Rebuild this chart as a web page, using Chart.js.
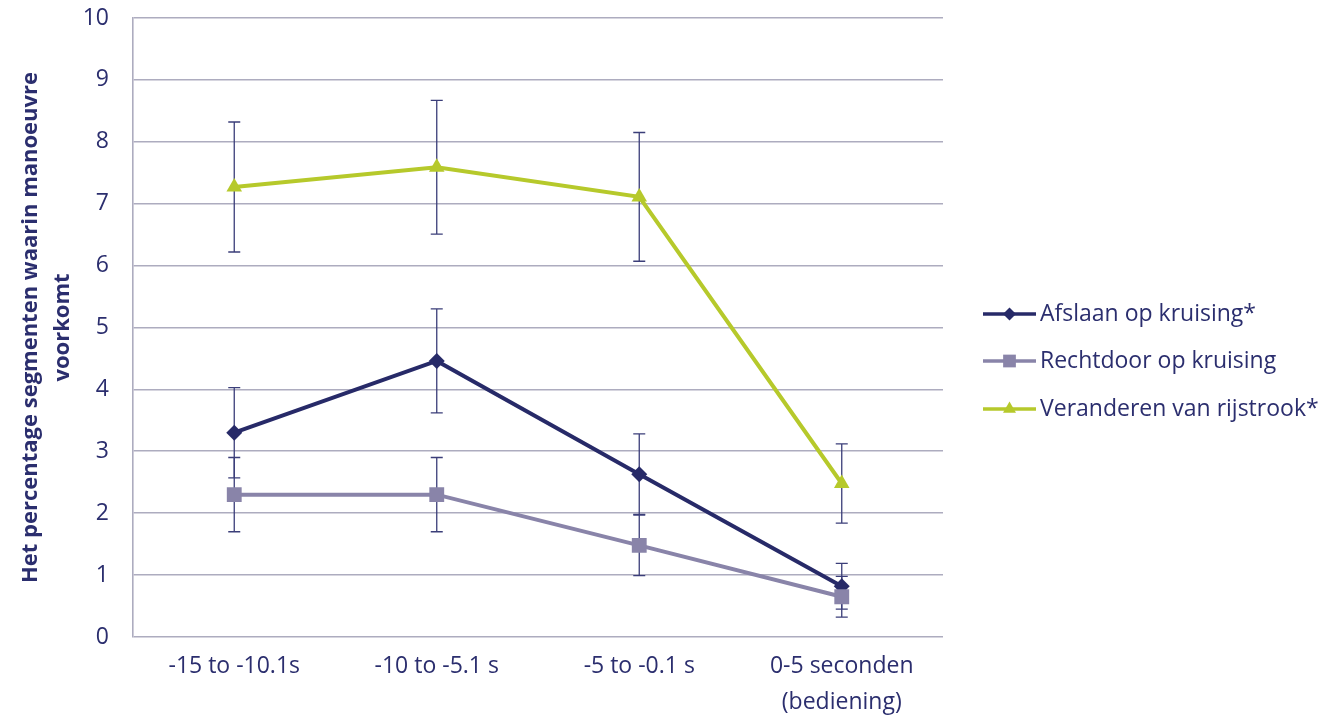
<!DOCTYPE html>
<html>
<head>
<meta charset="utf-8">
<script src="https://cdn.jsdelivr.net/npm/chart.js@4/dist/chart.umd.min.js"></script>
<style>
  html, body { margin: 0; padding: 0; background: #fff; }
  #chart { display: block; }
</style>
</head>
<body>
<canvas id="chart" width="1329" height="719"></canvas>
<script>
// categorieën op de x-as
const categories = [
  "-15 to -10.1s",
  "-10 to -5.1 s",
  "-5 to -0.1 s",
  ["0-5 seconden", "(bediening)"]
];

// gemiddelden per manoeuvre
const afslaan     = [3.30, 4.46, 2.63, 0.82];
const rechtdoor   = [2.30, 2.30, 1.48, 0.65];
const veranderen  = [7.27, 7.59, 7.11, 2.48];

// foutmarges (+/-)
const afslaanErr    = [0.73, 0.84, 0.65, 0.37];
const rechtdoorErr  = [0.60, 0.60, 0.49, 0.33];
const veranderenErr = [1.05, 1.08, 1.04, 0.64];

const yTicks = [0, 1, 2, 3, 4, 5, 6, 7, 8, 9, 10];

const TEXT   = "#2b2e6e";
const GRID   = "#adacbf";
const NAVY   = "#272a68";
const LILA   = "#8984a9";
const LIME   = "#b6c92b";
const ERRCOL = "#3b3e79";

const FONT = "'Open Sans', 'Noto Sans', sans-serif";

// foutbalken tekenen via de schalen van de grafiek
const errorBars = {
  id: "errorBars",
  beforeDatasetsDraw(chart) {
    const { ctx, scales } = chart;
    ctx.save();
    ctx.strokeStyle = ERRCOL;
    ctx.lineWidth = 1.3;
    chart.data.datasets.forEach(ds => {
      ds.values.forEach((v, i) => {
        const x  = scales.x.getPixelForValue(i);
        const hi = scales.y.getPixelForValue(v + ds.err[i]);
        const lo = scales.y.getPixelForValue(v - ds.err[i]);
        ctx.beginPath();
        ctx.moveTo(x, hi); ctx.lineTo(x, lo);
        ctx.moveTo(x - 6, hi); ctx.lineTo(x + 6, hi);
        ctx.moveTo(x - 6, lo); ctx.lineTo(x + 6, lo);
        ctx.stroke();
      });
    });
    ctx.restore();
  }
};

// legenda rechts: lijn + marker + tekst
const sideLegend = {
  id: "sideLegend",
  afterDraw(chart) {
    const { ctx } = chart;
    const x0 = 983, lineLen = 53, rowY = [314, 361, 409];
    ctx.save();
    chart.data.datasets.forEach((ds, i) => {
      const y = rowY[i];
      ctx.strokeStyle = ds.borderColor;
      ctx.lineWidth = 3.5;
      ctx.beginPath();
      ctx.moveTo(x0, y);
      ctx.lineTo(x0 + lineLen, y);
      ctx.stroke();
      ctx.fillStyle = ds.borderColor;
      Chart.helpers.drawPoint(ctx, {
        pointStyle: ds.pointStyle,
        radius: ds.pointRadius - 1.5,
        borderWidth: 0
      }, x0 + lineLen / 2, y);
      ctx.fillStyle = TEXT;
      ctx.font = "23px " + FONT;
      ctx.textAlign = "left";
      ctx.textBaseline = "middle";
      ctx.fillText(ds.label, x0 + lineLen + 4, y);
    });
    ctx.restore();
  }
};

function series(label, values, err, color, style, radius, order) {
  return {
    label, values, err,
    data: values,
    borderColor: color,
    backgroundColor: color,
    borderWidth: 4,
    pointStyle: style,
    pointRadius: radius,
    pointHoverRadius: radius,
    pointBorderWidth: 0,
    tension: 0,
    order
  };
}

new Chart(document.getElementById("chart"), {
  type: "line",
  data: {
    labels: categories,
    datasets: [
      series("Afslaan op kruising*",        afslaan,    afslaanErr,    NAVY, "rectRot",  8,    3),
      series("Rechtdoor op kruising",       rechtdoor,  rechtdoorErr,  LILA, "rect",     10.5, 2),
      series("Veranderen van rijstrook*",   veranderen, veranderenErr, LIME, "triangle", 9,    1)
    ]
  },
  plugins: [errorBars, sideLegend],
  options: {
    responsive: false,
    animation: false,
    devicePixelRatio: 1,
    layout: { padding: { top: 18, right: 386, left: 0, bottom: 0 } },
    plugins: {
      legend: { display: false },
      tooltip: { enabled: false }
    },
    scales: {
      x: {
        offset: true,
        grid: { display: false, drawTicks: false },
        border: { display: false },
        ticks: {
          color: TEXT,
          padding: 12,
          maxRotation: 0,
          font: { family: FONT, size: 23, lineHeight: 1.55 }
        },
        afterFit(scale) {
          scale.height = 82;
          scale.paddingLeft = 0;
          scale.paddingRight = 0;
        }
      },
      y: {
        min: 0,
        max: 10,
        afterBuildTicks(scale) { scale.ticks = yTicks.map(v => ({ value: v })); },
        grid: { color: GRID, lineWidth: 1.6, drawTicks: false },
        border: { display: true, color: GRID, width: 1.6 },
        ticks: {
          color: TEXT,
          padding: 24,
          font: { family: FONT, size: 23 }
        },
        title: {
          display: true,
          text: ["Het percentage segmenten waarin manoeuvre", "voorkomt"],
          color: TEXT,
          font: { family: FONT, size: 22, weight: "bold", lineHeight: 1.45 },
          padding: { top: 15, bottom: 0 }
        },
        afterFit(scale) {
          scale.width = 133;
          scale.paddingTop = 0;
          scale.paddingBottom = 0;
        }
      }
    }
  }
});
</script>
</body>
</html>
